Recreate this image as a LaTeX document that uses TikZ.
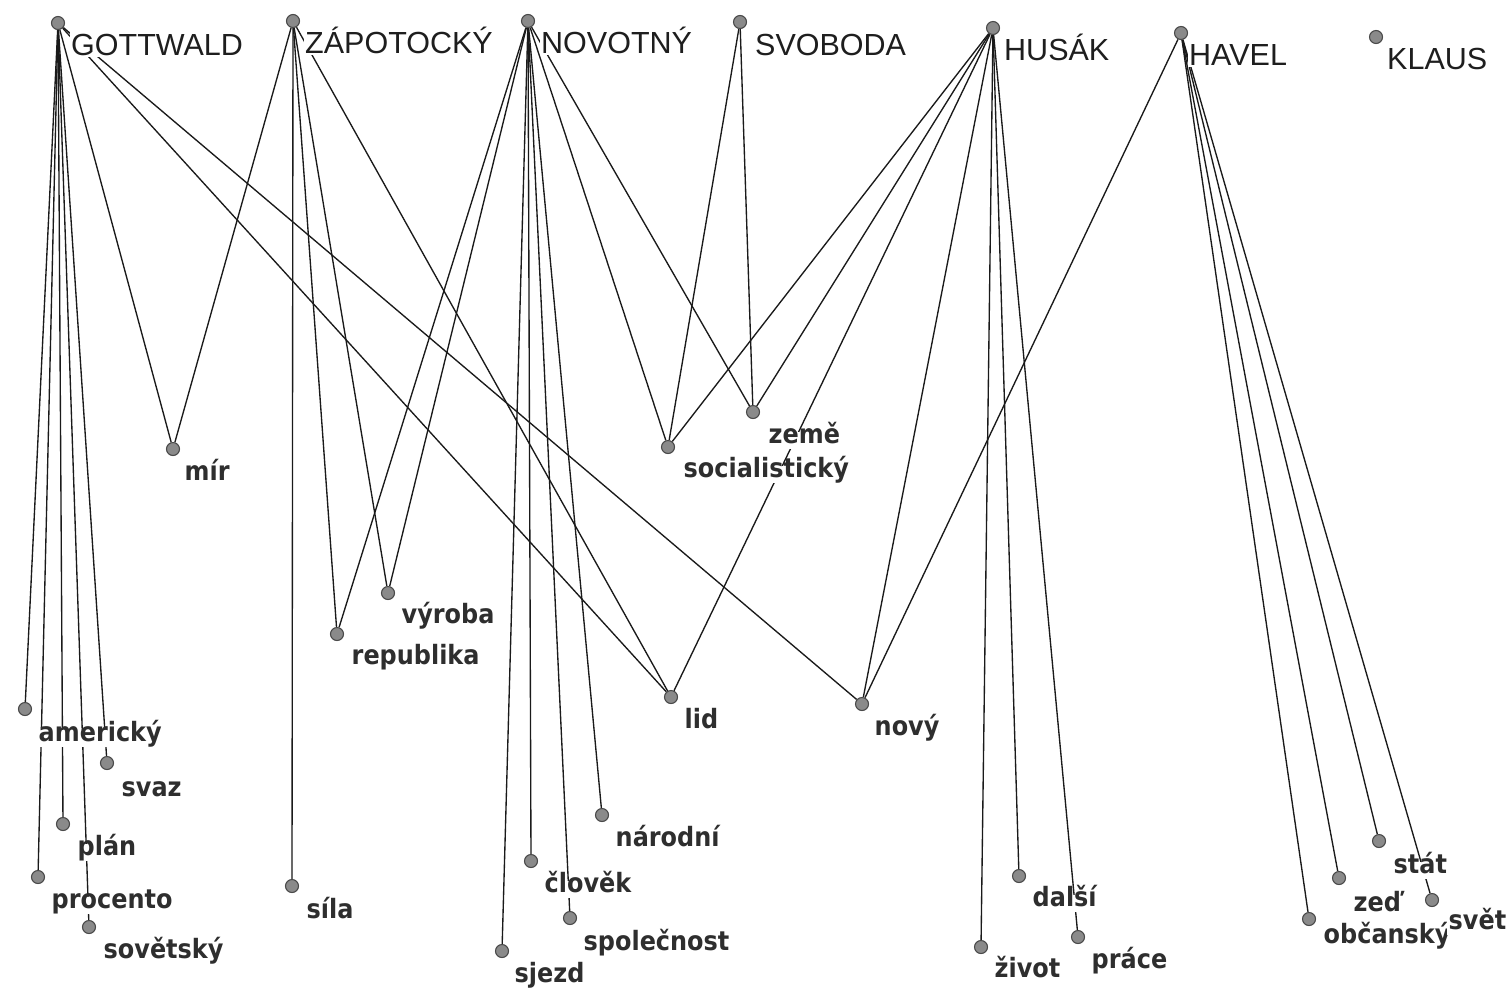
\documentclass[tikz,border=0pt]{standalone}
\usepackage{fontspec}
\newfontfamily\topfont{Liberation Sans}
\newfontfamily\labfont{DejaVu Sans}[FakeStretch=0.9]
\definecolor{dotgray}{HTML}{8A8A8A}
\definecolor{dotedge}{HTML}{4A4A4A}
\definecolor{linecol}{HTML}{1A1A1A}
\definecolor{txttop}{HTML}{1E1E1E}
\definecolor{txtbot}{HTML}{2E2E2E}
\pgfdeclarelayer{bg}
\pgfdeclarelayer{edges}
\pgfdeclarelayer{labels}
\pgfsetlayers{bg,edges,labels,main}
\begin{document}
\begin{tikzpicture}[x=1pt,y=-1pt,
  dot/.style={circle, fill=dotgray, draw=dotedge, line width=1.1pt, minimum size=13pt, inner sep=0pt},
  edge/.style={draw=linecol, line width=1.35pt},
  toplab/.style={anchor=base west, font=\topfont\fontsize{30.5}{32}\selectfont, text=txttop, fill=white, inner xsep=1pt, inner ysep=2pt},
  botlab/.style={anchor=base west, font=\labfont\bfseries\fontsize{26.6}{28}\selectfont, text=txtbot, fill=white, inner xsep=1.5pt, inner ysep=3pt, text height=0.8em, text depth=0.25em}]
\begin{pgfonlayer}{bg}
\fill[white] (0,0) rectangle (1506,989);
\end{pgfonlayer}
\useasboundingbox (0,0) rectangle (1506,989);
% top dots
\node[dot] (g)  at (58,23) {};
\node[dot] (z)  at (293,21) {};
\node[dot] (n)  at (528,21) {};
\node[dot] (s)  at (740,22) {};
\node[dot] (h)  at (993,28) {};
\node[dot] (hv) at (1181,33) {};
\node[dot] (k)  at (1376,37) {};
% bottom dots
\node[dot] (mir)   at (173,449) {};
\node[dot] (amer)  at (25,709) {};
\node[dot] (svaz)  at (107,763) {};
\node[dot] (plan)  at (63,824) {};
\node[dot] (proc)  at (38,877) {};
\node[dot] (sov)   at (89,927) {};
\node[dot] (sila)  at (292,886) {};
\node[dot] (rep)   at (337,634) {};
\node[dot] (vyr)   at (388,593) {};
\node[dot] (lid)   at (671,697) {};
\node[dot] (novy)  at (862,704) {};
\node[dot] (soc)   at (668,447) {};
\node[dot] (zeme)  at (753,412) {};
\node[dot] (narod) at (602,815) {};
\node[dot] (clov)  at (531,861) {};
\node[dot] (spol)  at (570,918) {};
\node[dot] (sjezd) at (502,951) {};
\node[dot] (dalsi) at (1019,876) {};
\node[dot] (zivot) at (981,947) {};
\node[dot] (prace) at (1078,937) {};
\node[dot] (stat)  at (1379,841) {};
\node[dot] (zed)   at (1339,878) {};
\node[dot] (obc)   at (1309,919) {};
\node[dot] (svet)  at (1432,900) {};
% labels
\begin{pgfonlayer}{labels}
\node[toplab] (gl)  at (70,55) {GOTTWALD};
\node[toplab] (zl)  at (304,53) {ZÁPOTOCKÝ};
\node[toplab] (nl)  at (540,53) {NOVOTNÝ};
\node[toplab] (sl)  at (754,55) {SVOBODA};
\node[toplab] (hl)  at (1003,60) {HUSÁK};
\node[toplab] (hvl) at (1188,65) {HAVEL};
\node[toplab] (kl)  at (1386,69) {KLAUS};
\node[botlab] (mirl)   at (183,480) {mír};
\node[botlab] (amerl)  at (37,741) {americký};
\node[botlab] (svazl)  at (120,796) {svaz};
\node[botlab] (planl)  at (76,855) {plán};
\node[botlab] (procl)  at (50,908) {procento};
\node[botlab] (sovl)   at (102,958) {sovětský};
\node[botlab] (silal)  at (305,918) {síla};
\node[botlab] (repl)   at (350,664) {republika};
\node[botlab] (vyrl)   at (400,623) {výroba};
\node[botlab] (lidl)   at (683,728) {lid};
\node[botlab] (novyl)  at (873,735) {nový};
\node[botlab] (zemel)  at (767,443) {země};
\node[botlab] (socl)   at (682,477) {socialistický};
\node[botlab] (narodl) at (614,846) {národní};
\node[botlab] (clovl)  at (543,892) {člověk};
\node[botlab] (spoll)  at (582,950) {společnost};
\node[botlab] (sjezdl) at (513,982) {sjezd};
\node[botlab] (dalsil) at (1031,906) {další};
\node[botlab] (zivotl) at (993,977) {život};
\node[botlab] (pracel) at (1090,968) {práce};
\node[botlab] (statl)  at (1392,873) {stát};
\node[botlab] (zedl)   at (1352,911) {zeď};
\node[botlab] (obcl)   at (1322,943) {občanský};
\node[botlab] (svetl)  at (1447,929) {svět};
\end{pgfonlayer}
% edges
\begin{pgfonlayer}{edges}
\foreach \t in {amer,svaz,plan,proc,sov,mir,lid,novy} \draw[edge] (g) -- (\t);
\foreach \t in {mir,sila,rep,vyr,lid} \draw[edge] (z) -- (\t);
\foreach \t in {rep,vyr,sjezd,clov,spol,narod,soc,zeme} \draw[edge] (n) -- (\t);
\foreach \t in {soc,zeme} \draw[edge] (s) -- (\t);
\foreach \t in {soc,zeme,lid,novy,zivot,dalsi,prace} \draw[edge] (h) -- (\t);
\foreach \t in {novy,obc,zed,stat,svet} \draw[edge] (hv) -- (\t);
\end{pgfonlayer}
\end{tikzpicture}
\end{document}
